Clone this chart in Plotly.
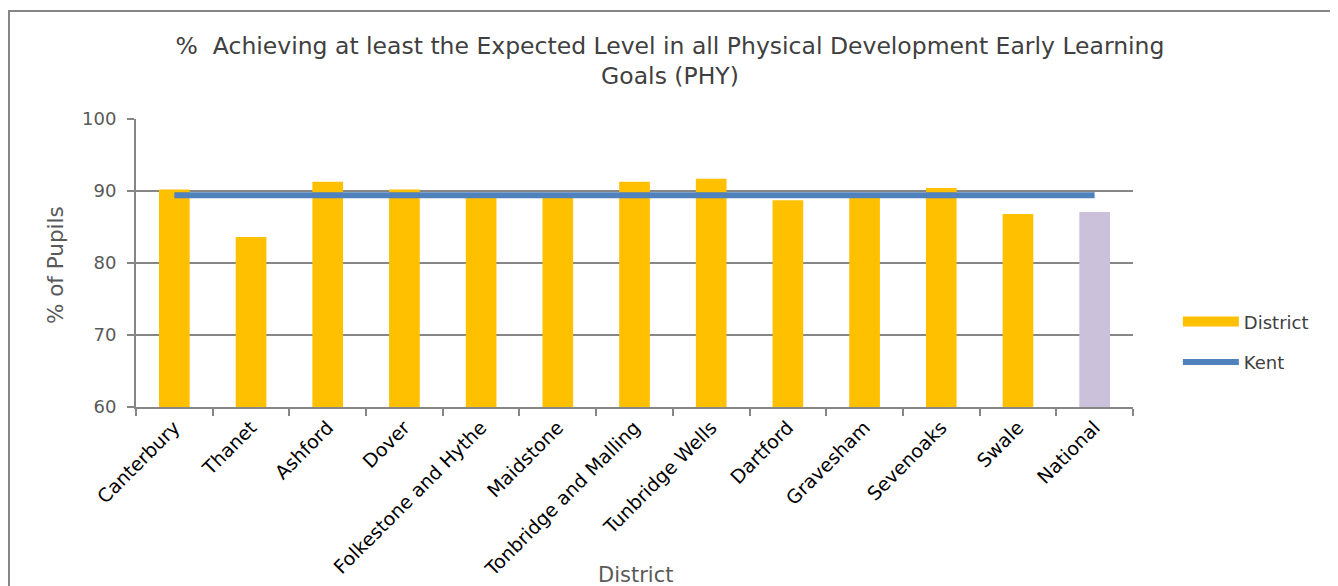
import plotly.graph_objects as go

# Data
districts = ['Canterbury', 'Thanet', 'Ashford', 'Dover', 'Folkestone and Hythe',
             'Maidstone', 'Tonbridge and Malling', 'Tunbridge Wells', 'Dartford',
             'Gravesham', 'Sevenoaks', 'Swale', 'National']
district_pct = [90.2, 83.6, 91.3, 90.2, 89.3, 89.2, 91.3, 91.7, 88.7, 89.2, 90.4, 86.8, 87.1]
kent_pct = [89.4, 89.4, 89.4, 89.4, 89.4, 89.4, 89.4, 89.4, 89.4, 89.4, 89.4, 89.4, 89.4]

bar_colors = ['#FFC000'] * 12 + ['#CCC1DA']

font_name = 'DejaVu Sans'
grey = '#868686'

fig = go.Figure()
fig.add_trace(go.Bar(x=districts, y=district_pct, name='District', showlegend=False,
                     marker=dict(color=bar_colors, line=dict(width=0))))
# legend-only entry so the District swatch is a wide bar like the original
fig.add_trace(go.Scatter(x=[None], y=[None], name='District', mode='lines',
                         legendgroup='d', line=dict(color='#FFC000', width=13)))
fig.add_trace(go.Scatter(x=districts, y=kent_pct, name='Kent', mode='lines',
                         legendgroup='k', line=dict(color='#4F81BD', width=6)))

fig.update_layout(
    width=1338, height=586,
    margin=dict(l=128, r=213, t=111, b=187),
    paper_bgcolor='white', plot_bgcolor='white',
    font=dict(family=font_name, color='#404040', size=17),
    title=dict(text='%  Achieving at least the Expected Level in all Physical Development Early Learning<br>Goals (PHY)',
               x=0.5356, xref='paper', xanchor='center', y=0.922, yanchor='top',
               font=dict(size=23.5, color='#404040')),
    bargap=0.6,
    showlegend=True,
    legend=dict(x=1.045, y=0.226, xanchor='left', yanchor='middle',
                font=dict(size=18, color='#404040'), tracegroupgap=14,
                itemwidth=56, traceorder='grouped'),
)

fig.update_xaxes(
    tickangle=-45, tickfont=dict(size=19, color='#000000'),
    showline=True, linecolor=grey, linewidth=2,
    ticks='outside', tickson='boundaries', ticklen=7, tickcolor=grey, tickwidth=2,
    showgrid=False,
)
fig.update_yaxes(
    range=[60, 100], dtick=10, tickfont=dict(size=18, color='#595959'),
    showline=True, linecolor=grey, linewidth=2,
    ticks='outside', ticklen=7, tickcolor=grey, tickwidth=2, ticklabelstandoff=7,
    showgrid=True, gridcolor=grey, gridwidth=2, zeroline=False,
)

# axis titles
fig.add_annotation(text='District', xref='paper', yref='paper', x=0.5015, y=-0.583,
                   xanchor='center', yanchor='middle', showarrow=False,
                   font=dict(size=21, color='#595959'))
fig.add_annotation(text='% of Pupils', xref='paper', yref='paper', x=-0.0812, y=0.493,
                   xanchor='center', yanchor='middle', textangle=-90, showarrow=False,
                   font=dict(size=21.5, color='#595959'))

# Outer chart border
fig.add_shape(type='rect', xref='paper', yref='paper',
              x0=-0.1274, x1=1.2006, y0=-0.8, y1=1.375,
              line=dict(color=grey, width=2), fillcolor='rgba(0,0,0,0)',
              layer='below')

fig.write_html('out.html')
